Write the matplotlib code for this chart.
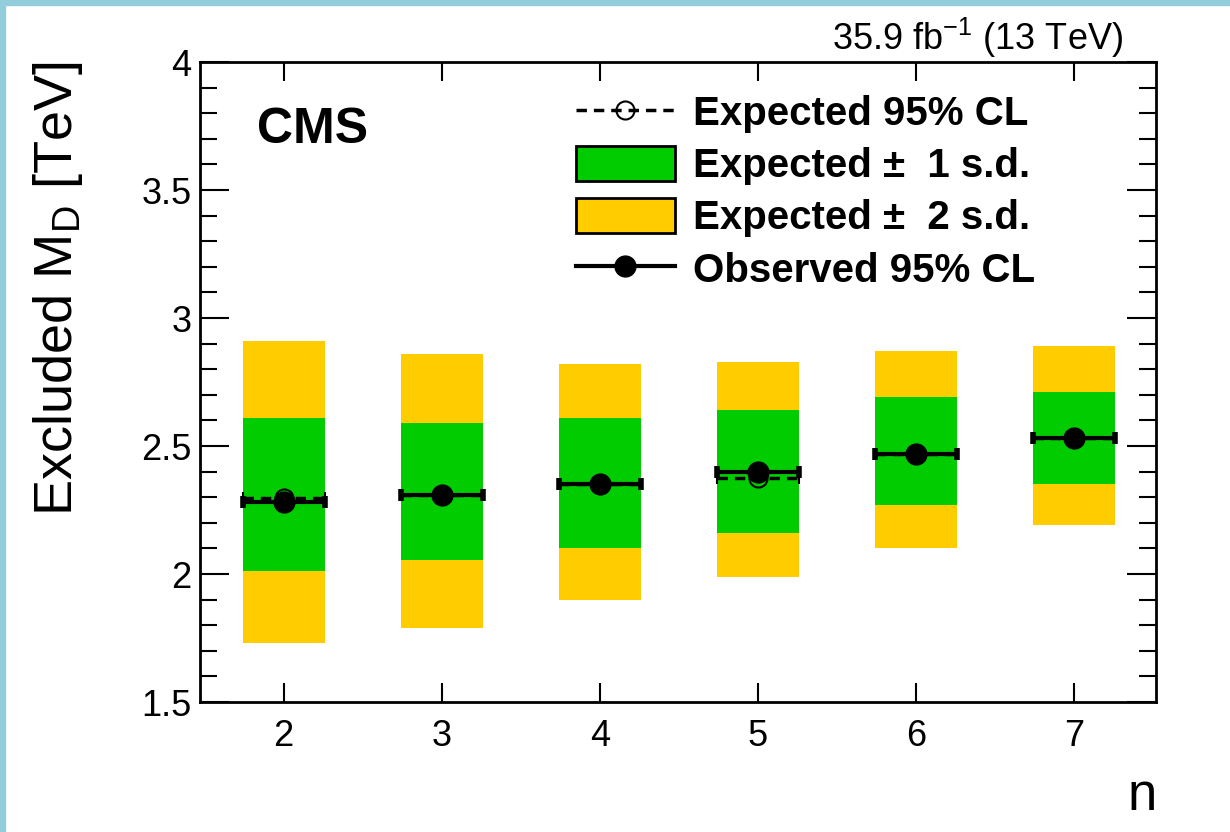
import matplotlib
matplotlib.use("Agg")
import matplotlib.pyplot as plt
from matplotlib.lines import Line2D
from matplotlib.patches import Patch, Rectangle
from matplotlib.ticker import MultipleLocator

plt.rcParams["font.family"] = ["Liberation Sans", "DejaVu Sans"]
plt.rcParams["mathtext.fontset"] = "custom"
plt.rcParams["mathtext.rm"] = "Liberation Sans"
plt.rcParams["mathtext.it"] = "Liberation Sans:italic"
plt.rcParams["mathtext.bf"] = "Liberation Sans:bold"

# number of extra dimensions
n_dims = [2, 3, 4, 5, 6, 7]
observed = [2.28, 2.31, 2.35, 2.40, 2.47, 2.53]
expected = [2.295, 2.31, 2.35, 2.375, 2.47, 2.53]
exp_m2 = [1.73, 1.79, 1.90, 1.99, 2.10, 2.19]
exp_m1 = [2.01, 2.055, 2.10, 2.16, 2.27, 2.35]
exp_p1 = [2.61, 2.59, 2.61, 2.64, 2.69, 2.71]
exp_p2 = [2.91, 2.86, 2.82, 2.83, 2.87, 2.89]

half_w = 0.26
green = "#00cc00"
yellow = "#ffcc00"

fig = plt.figure(figsize=(12.3, 8.32), dpi=100)
ax = fig.add_axes([200 / 1230, 130 / 832, 956 / 1230, 640 / 832])

# bands
ax.bar(n_dims, [t - b for t, b in zip(exp_p2, exp_m2)], bottom=exp_m2,
       width=2 * half_w, color=yellow, linewidth=0, zorder=1)
ax.bar(n_dims, [t - b for t, b in zip(exp_p1, exp_m1)], bottom=exp_m1,
       width=2 * half_w, color=green, linewidth=0, zorder=2)

# expected (dashed) and observed (solid)
eb_exp = ax.errorbar(n_dims, expected, xerr=half_w, fmt="o", color="black",
                     mfc="none", mec="black", ms=13, mew=1.5, elinewidth=2.5,
                     capsize=4, capthick=3, zorder=3)
eb_exp[2][0].set_linestyle((0, (3, 2)))
ax.errorbar(n_dims, observed, xerr=half_w, fmt="o", color="black",
            ms=15, elinewidth=3, capsize=4, capthick=4, zorder=4)

ax.set_xlim(1.47, 7.52)
ax.set_ylim(1.5, 4.0)
ax.set_xticks(n_dims)
ax.set_xticklabels([str(v) for v in n_dims])
ax.set_yticks([1.5, 2, 2.5, 3, 3.5, 4])
ax.set_yticklabels(["1.5", "2", "2.5", "3", "3.5", "4"])
ax.yaxis.set_minor_locator(MultipleLocator(0.1))
ax.tick_params(axis="both", which="both", direction="in", top=True, right=True,
               width=1.5, labelsize=26)
ax.tick_params(axis="y", which="major", length=21, pad=6)
ax.tick_params(axis="y", which="minor", length=12)
ax.tick_params(axis="x", which="major", length=14, pad=12)
for s in ax.spines.values():
    s.set_linewidth(2)

ax.set_ylabel(r"Excluded M$_{\mathregular{D}}$ [TeV]", fontsize=39, ha="right")
ax.yaxis.set_label_coords(-0.12, 1.0)
fig.text(1157 / 1230, 22 / 832, "n", fontsize=38, ha="right", va="baseline")
fig.text(1123 / 1230, (832 - 50) / 832, r"35.9 fb$^{\mathregular{-1}}$ (13 TeV)",
         fontsize=26, ha="right", va="baseline")
fig.text(257 / 1230, (832 - 143) / 832, "CMS", fontsize=36, fontweight="bold",
         va="baseline")

handles = [
    Line2D([], [], color="black", ls=(0, (3, 2)), lw=2.5, marker="o", ms=13,
           mfc="none", mew=1.5),
    Patch(facecolor=green, edgecolor="black", lw=2),
    Patch(facecolor=yellow, edgecolor="black", lw=2),
    Line2D([], [], color="black", ls="-", lw=3, marker="o", ms=15),
]
labels = ["Expected 95% CL", "Expected \u00b1  1 s.d.",
          "Expected \u00b1  2 s.d.", "Observed 95% CL"]
ax.legend(handles, labels, loc="upper left",
          bbox_to_anchor=(576 / 1230, (832 - 94) / 832),
          bbox_transform=fig.transFigure, frameon=False,
          prop={"weight": "bold", "size": 29}, handlelength=2.45,
          handleheight=0.95, handletextpad=0.45, labelspacing=0.32,
          borderpad=0, borderaxespad=0)

# light blue frame on top and left
fig.patches.append(Rectangle((0, 1 - 5 / 832), 1, 5 / 832, transform=fig.transFigure,
                             color="#93cddc", zorder=10))
fig.patches.append(Rectangle((0, 0), 5 / 1230, 1, transform=fig.transFigure,
                             color="#93cddc", zorder=10))

fig.savefig("out.png", dpi=100)
